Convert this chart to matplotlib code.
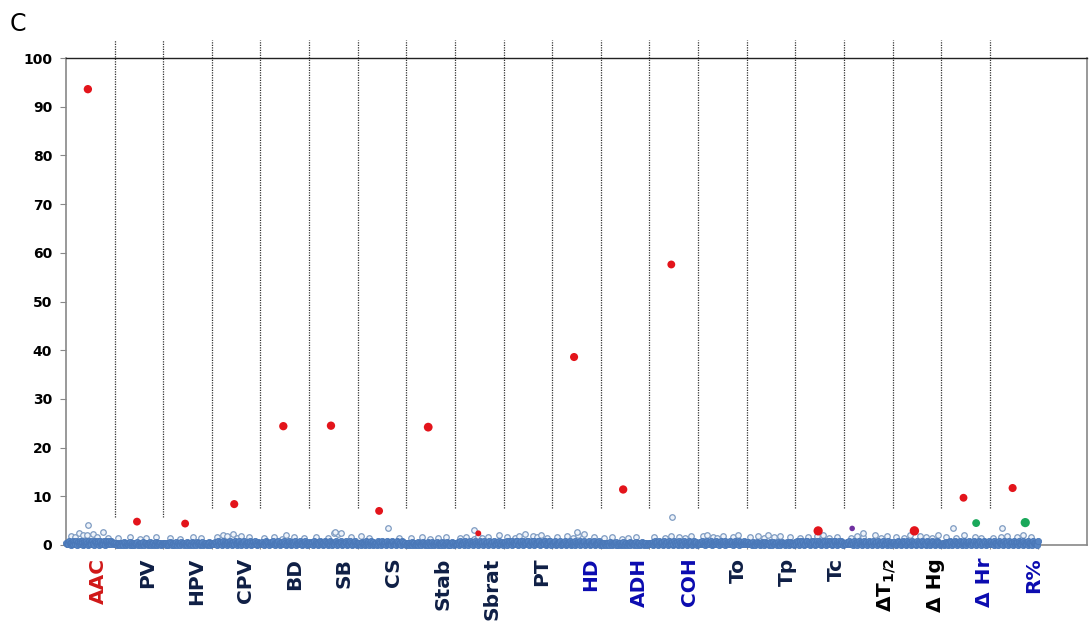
import matplotlib
matplotlib.use('Agg')
import matplotlib.pyplot as plt
import numpy as np

# traits along the x axis
traits = ['AAC', 'PV', 'HPV', 'CPV', 'BD', 'SB', 'CS', 'Stab', 'Sbrat', 'PT',
          'HD', 'ADH', 'COH', 'To', 'Tp', 'Tc', r'ΔT$_{\mathbf{1/2}}$', 'Δ Hg', 'Δ Hr', 'R%']
label_colors = ['#d01818'] + ['#0f1f45'] * 9 + ['#0b0bb0'] * 3 + ['#0f1f45'] * 3 + \
               ['#000000'] * 2 + ['#0b0bb0'] * 2

# dense background markers: one digit per marker, value = digit * 0.12 (read by eye)
bg_digits = [
    "3152640317254163052731640253174026351742063517304625137406253174625314",
    "2130412031420513024130520314021350214031250314201352041302153024130214",
    "3120413025130420315204130521403125041302154031205314021350213402153021",
    "4231524036251403625140352614035216403526140325614032516403251463025314",
    "3251403625130425316204351620413526140325163024153620413526304152630415",
    "2315403625140326154032615403216540321564032156403215640321564032516402",
    "3142053142061352041630524130625140362514036251430625143062514306251430",
    "2140312053140213504120351402135041203514021350412035140213504120351402",
    "3241503624150362415036241503624150362415036241503624150362415036241503",
    "4251603725160425371604253716042537160425371604253716042537160425371604",
    "3152604215360421536042153604215360421536042153604215360421536042153604",
    "2130412031420513024130520314021350214031250314201352041302153024130214",
    "3241502634150263415026341502634150263415026341502634150263415026341502",
    "4251362415036241536042513624150362415360425136241503624153604251362415",
    "3152413025140352413025140352413025140352413025140352413025140352413025",
    "4261503726150426371504263715042637150426371504263715042637150426371504",
    "3142513624150362415036241503624150362415036241503624150362415036241503",
    "3251402635140263514026351402635140263514026351402635140263514026351402",
    "2140315240316250431625043162504316250431625043162504316250431625043162",
    "3152406314250631425063142506314250631425063142506314250631425063142506",
]

# scattered open circles above the band: '.' = none, digit d -> value 1.1 + d * 0.2
bg_upper = [
    "..4.3.7.5.5..6.3..8.2...",
    ".2.....3....1..2....3...",
    "...2....1.....3...2.....",
    "..3..5.4..6.2.4...3.....",
    ".2....3...1.5...3....2..",
    "...3.....2..7.6.....3...",
    ".4...2..............2...",
    "..2....3...1...2...3....",
    "..2..3...1.4.2..3....5..",
    ".3...2.4..6...4.3.5..2..",
    "..3....4..2.5..6....3...",
    ".2...3....1..2...3......",
    "..3....2..4...3..2..4...",
    "..4.5..3.2..4....3.5....",
    ".3...4..2.5..3..4....3..",
    "..2...3...4..5..2...3...",
    "...2..4..3.....5..2..4..",
    ".3...2..5....4..3..2..5.",
    "..3....2...5....3..2....",
    ".2...3..4....3..5...3...",
]

# isolated higher background markers: (trait index, position in block, value)
bg_hi = [(0, 0.46, 4.1), (5, 0.53, 2.6), (5, 0.65, 2.4), (6, 0.63, 3.5),
         (8, 0.4, 3.1), (10, 0.5, 2.7), (12, 0.47, 5.7), (16, 0.4, 2.5),
         (18, 0.25, 3.5), (19, 0.25, 3.5)]

# highlighted peaks: (trait index, position in block, value, colour, size)
peaks = [(0, 0.45, 93.6, '#e3141b', 36), (1, 0.46, 4.8, '#e3141b', 32),
         (2, 0.45, 4.4, '#e3141b', 32), (3, 0.46, 8.4, '#e3141b', 34),
         (4, 0.47, 24.4, '#e3141b', 36), (5, 0.45, 24.5, '#e3141b', 36),
         (6, 0.44, 7.0, '#e3141b', 32), (7, 0.45, 24.2, '#e3141b', 40),
         (8, 0.48, 2.4, '#e3141b', 18), (10, 0.45, 38.6, '#e3141b', 34),
         (11, 0.46, 11.4, '#e3141b', 36), (12, 0.45, 57.6, '#e3141b', 32),
         (15, 0.47, 2.9, '#e3141b', 44), (16, 0.17, 3.4, '#7030a0', 16),
         (17, 0.45, 2.9, '#e3141b', 46), (18, 0.46, 9.7, '#e3141b', 32),
         (18, 0.72, 4.5, '#1aa85a', 32), (19, 0.47, 11.7, '#e3141b', 34),
         (19, 0.73, 4.6, '#1aa85a', 44)]

fig = plt.figure(figsize=(10.89, 6.21), dpi=100)
ax = fig.add_axes([66 / 1089, 76 / 621, 1021 / 1089, 487 / 621])
ax.set_xlim(0, 21.0)
ax.set_ylim(0, 100)

# open circles above the band
ux, uy = [], []
for i, s in enumerate(bg_upper):
    n = len(s)
    for k, c in enumerate(s):
        if c != '.':
            ux.append(i + (k + 0.5) / n)
            uy.append(1.1 + int(c) * 0.2)
ux += [t + p for t, p, v in bg_hi]
uy += [v for t, p, v in bg_hi]
ax.scatter(ux, uy, s=16, facecolor='#eef3fa', edgecolor='#7f9cc2',
           linewidth=0.9, clip_on=False, zorder=3)

# dense band
for i, s in enumerate(bg_digits):
    n = len(s)
    xs = i + (np.arange(n) + 0.5) / n
    ys = np.array([int(c) for c in s]) * 0.12
    ax.scatter(xs, ys, s=20, facecolor='#5583c2', edgecolor='#4a78b8',
               linewidth=0.6, clip_on=False, zorder=3)

# peaks
for t, p, v, c, sz in peaks:
    ax.scatter(t + p, v, s=sz, color=c, edgecolor='none', zorder=4)

# dotted separators between traits, running above the frame
for k in range(1, len(traits)):
    low = 5.7 if k < 3 else 7.5
    ax.plot([k, k], [low, 103.7], color='#333333', lw=0.9, ls=(0, (1, 1)),
            clip_on=False, zorder=2)

# trait labels
for i, (name, col) in enumerate(zip(traits, label_colors)):
    ax.text(0.66 + 1.013 * i, -2.6, name, rotation=90, ha='center', va='top',
            fontsize=14.5, fontweight='bold', color=col)

ax.set_yticks(np.arange(0, 101, 10))
ax.set_xticks(np.arange(1, len(traits) + 1))
ax.tick_params(axis='x', length=3, color='#888888', labelbottom=False)
ax.tick_params(axis='y', length=4, color='#888888', labelsize=10, pad=6)
for lab in ax.get_yticklabels():
    lab.set_fontweight('bold')

for sp in ['left', 'bottom', 'right']:
    ax.spines[sp].set_color('#888888')
    ax.spines[sp].set_linewidth(1.2)
ax.spines['top'].set_color('#222222')
ax.spines['top'].set_linewidth(1.0)

fig.text(10 / 1089, 1 - 24 / 621, 'C', fontsize=17, va='center', ha='left')

fig.savefig('out.png', dpi=100, facecolor='white')
